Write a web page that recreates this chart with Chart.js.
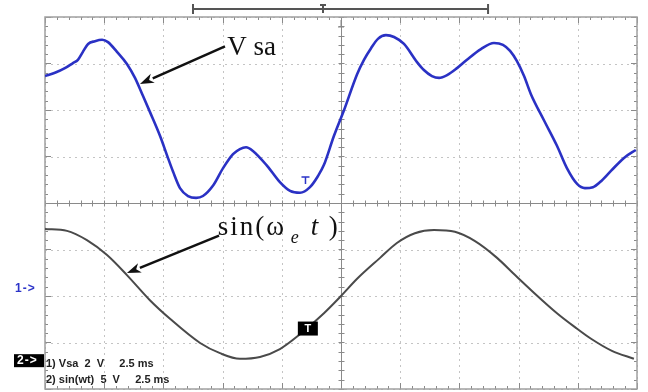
<!DOCTYPE html>
<html>
<head>
<meta charset="utf-8">
<script src="https://cdn.jsdelivr.net/npm/chart.js@4.4.1/dist/chart.umd.min.js"></script>
<style>
  html, body { margin: 0; padding: 0; background: #fff; }
  #wrap { width: 648px; height: 392px; }
</style>
</head>
<body>
<div id="wrap"><canvas id="scope" width="648" height="392"></canvas></div>
<script>
// time axis: 10 divisions of 2.5 ms, vertical: 8 divisions
const timeTicks = [0, 2.5, 5, 7.5, 10, 12.5, 15, 17.5, 20, 22.5, 25];
const divTicks = [-4, -3, -2, -1, 0, 1, 2, 3, 4];

// channel 1: Vsa (screen divisions)
const vsaTime = [0, 0.42, 0.84, 1.18, 1.39, 1.60, 1.82, 2.11, 2.41, 2.66, 3.04, 3.46, 3.80, 4.14, 4.43, 4.86,
  5.15, 5.41, 5.70, 6.04, 6.38, 6.67, 7.09, 7.52, 7.94, 8.23, 8.49, 8.78, 9.38, 9.92, 10.35, 10.77,
  11.19, 11.53, 11.78, 12.20, 12.63, 13.18, 13.47, 13.77, 14.06, 14.40, 14.74, 15.16, 15.71, 16.00,
  16.34, 16.64, 16.98, 17.40, 17.82, 18.41, 18.96, 19.34, 19.64, 19.93, 20.23, 20.52, 21.07, 21.62,
  22.04, 22.47, 22.80, 23.14, 23.44, 23.90, 24.45, 24.95];
const vsaDiv = [2.73, 2.80, 2.90, 3.01, 3.08, 3.25, 3.42, 3.48, 3.51, 3.46, 3.25, 2.99, 2.69, 2.30, 1.96, 1.44,
  1.03, 0.67, 0.32, 0.15, 0.11, 0.15, 0.37, 0.75, 1.05, 1.16, 1.20, 1.12, 0.80, 0.45, 0.26, 0.22,
  0.34, 0.58, 0.82, 1.44, 2.00, 2.77, 3.08, 3.33, 3.53, 3.61, 3.57, 3.42, 3.03, 2.86,
  2.73, 2.69, 2.75, 2.90, 3.08, 3.31, 3.44, 3.40, 3.27, 3.05, 2.73, 2.34, 1.78, 1.23,
  0.75, 0.41, 0.32, 0.34, 0.45, 0.69, 0.97, 1.14];

// channel 2: sin(wt) reference (screen divisions)
const sinTime = [0, 0.93, 1.77, 2.62, 3.46, 4.43, 5.28, 6.55, 7.39, 8.23, 9.08, 9.92, 10.77, 11.78, 12.50,
  13.18, 14.15, 14.86, 15.62, 16.43, 17.31, 18.16, 19.09, 19.85, 20.52, 21.62, 22.38, 23.06, 23.94, 24.87];
const sinDiv = [-0.56, -0.60, -0.80, -1.12, -1.55, -2.09, -2.49, -3.01, -3.23, -3.35, -3.31, -3.14, -2.82, -2.37, -2.00,
  -1.63, -1.18, -0.86, -0.65, -0.58, -0.62, -0.82, -1.18, -1.55, -1.87, -2.37, -2.67, -2.92, -3.18, -3.35];

const channelInfo = ['1) Vsa  2  V     2.5 ms', '2) sin(wt)  5  V     2.5 ms'];

const toPoints = (xs, ys) => xs.map((x, i) => ({ x: x, y: ys[i] }));

// graticule, border ticks and centre cross
const graticule = {
    id: 'graticule',
    beforeDatasetsDraw(chart) {
        const { ctx, chartArea: a, scales: { x, y } } = chart;
        ctx.save();

        ctx.strokeStyle = '#c4c4c4';
        ctx.lineWidth = 1;
        ctx.setLineDash([2, 4]);
        timeTicks.forEach(t => {
            const px = Math.round(x.getPixelForValue(t)) + 0.5;
            ctx.beginPath(); ctx.moveTo(px, a.top); ctx.lineTo(px, a.bottom); ctx.stroke();
        });
        divTicks.forEach(d => {
            const py = Math.round(y.getPixelForValue(d)) + 0.5;
            ctx.beginPath(); ctx.moveTo(a.left, py); ctx.lineTo(a.right, py); ctx.stroke();
        });
        ctx.setLineDash([]);

        const cx = Math.round(x.getPixelForValue(12.5)) + 0.5;
        const cy = Math.round(y.getPixelForValue(0)) + 0.5;
        ctx.strokeStyle = '#8a8a8a';
        ctx.beginPath();
        ctx.moveTo(a.left, cy); ctx.lineTo(a.right, cy);
        ctx.moveTo(cx, a.top); ctx.lineTo(cx, a.bottom);
        ctx.stroke();

        // minor ticks every 1/5 division
        ctx.beginPath();
        for (let t = 0; t <= 25.001; t += 0.5) {
            const px = Math.round(x.getPixelForValue(t)) + 0.5;
            const major = Math.abs(t / 2.5 - Math.round(t / 2.5)) < 1e-6;
            const len = major ? 6 : 3;
            ctx.moveTo(px, a.top); ctx.lineTo(px, a.top + len);
            ctx.moveTo(px, a.bottom); ctx.lineTo(px, a.bottom - len);
            ctx.moveTo(px, cy - 3); ctx.lineTo(px, cy + 3);
        }
        for (let d = -4; d <= 4.001; d += 0.2) {
            const py = Math.round(y.getPixelForValue(d)) + 0.5;
            const major = Math.abs(d - Math.round(d)) < 1e-6;
            const len = major ? 6 : 3;
            ctx.moveTo(a.left, py); ctx.lineTo(a.left + len, py);
            ctx.moveTo(a.right, py); ctx.lineTo(a.right - len, py);
            ctx.moveTo(cx - 3, py); ctx.lineTo(cx + 3, py);
        }
        ctx.stroke();

        ctx.strokeStyle = '#a0a0a0';
        ctx.lineWidth = 1.5;
        ctx.strokeRect(a.left, a.top, a.right - a.left, a.bottom - a.top);
        ctx.restore();
    }
};

function arrow(ctx, x0, y0, x1, y1) {
    const ang = Math.atan2(y1 - y0, x1 - x0);
    const head = 14, half = 5;
    const bx = x1 - head * Math.cos(ang), by = y1 - head * Math.sin(ang);
    ctx.beginPath();
    ctx.moveTo(x0, y0); ctx.lineTo(bx, by);
    ctx.stroke();
    ctx.beginPath();
    ctx.moveTo(x1, y1);
    ctx.lineTo(bx + half * Math.sin(ang), by - half * Math.cos(ang));
    ctx.lineTo(bx + 4 * Math.cos(ang), by + 4 * Math.sin(ang));
    ctx.lineTo(bx - half * Math.sin(ang), by + half * Math.cos(ang));
    ctx.closePath();
    ctx.fill();
}

// labels, arrows and scope markers
const scopeText = {
    id: 'scopeText',
    afterDatasetsDraw(chart) {
        const { ctx, chartArea: a, scales: { x, y } } = chart;
        ctx.save();

        // time-base bracket above the screen
        const bl = x.getPixelForValue(6.25), br = x.getPixelForValue(18.71);
        ctx.strokeStyle = '#555';
        ctx.lineWidth = 2;
        ctx.beginPath();
        ctx.moveTo(bl, 9); ctx.lineTo(br, 9);
        ctx.moveTo(bl, 4); ctx.lineTo(bl, 14);
        ctx.moveTo(br, 4); ctx.lineTo(br, 14);
        const bm = x.getPixelForValue(11.74);
        ctx.moveTo(bm - 3, 5); ctx.lineTo(bm + 3, 5);
        ctx.moveTo(bm, 5); ctx.lineTo(bm, 13);
        ctx.stroke();

        // trigger position marker
        const tp = x.getPixelForValue(12.5);
        ctx.strokeStyle = '#888';
        ctx.lineWidth = 1;
        ctx.beginPath();
        ctx.moveTo(tp, a.top + 3); ctx.lineTo(tp, a.top + 10);
        ctx.moveTo(tp - 3, a.top + 10); ctx.lineTo(tp + 3, a.top + 10);
        ctx.stroke();

        ctx.fillStyle = '#111';
        ctx.strokeStyle = '#111';
        ctx.lineWidth = 2.5;

        // Vsa label and arrow
        arrow(ctx, x.getPixelForValue(7.6), y.getPixelForValue(3.37), x.getPixelForValue(4.01), y.getPixelForValue(2.56));
        ctx.font = '27px "Liberation Serif", "DejaVu Serif", serif';
        ctx.textBaseline = 'alphabetic';
        ctx.fillText('V sa', x.getPixelForValue(7.7), y.getPixelForValue(3.18));

        // sin(wet) label and arrow, tip on the trace
        arrow(ctx, x.getPixelForValue(7.35), y.getPixelForValue(-0.7), x.getPixelForValue(sinTime[4]), y.getPixelForValue(sinDiv[4]) - 2);
        const sx = x.getPixelForValue(7.3), sy = y.getPixelForValue(-0.69);
        ctx.font = '27px "Liberation Serif", "DejaVu Serif", serif';
        ctx.letterSpacing = '2px';
        ctx.fillText('sin(\u03c9', sx, sy);
        ctx.letterSpacing = '0px';
        ctx.font = 'italic 18px "Liberation Serif", "DejaVu Serif", serif';
        ctx.fillText('e', sx + 73, sy + 8);
        ctx.font = 'italic 27px "Liberation Serif", "DejaVu Serif", serif';
        ctx.fillText('t', sx + 93, sy);
        ctx.font = '27px "Liberation Serif", "DejaVu Serif", serif';
        ctx.fillText(')', sx + 111, sy);

        // channel 1 ground marker
        ctx.font = 'bold 12px "Liberation Sans", Arial, sans-serif';
        ctx.textBaseline = 'middle';
        ctx.letterSpacing = '1px';
        ctx.fillStyle = '#2b33c8';
        ctx.fillText('1->', 15, y.getPixelForValue(-1.85));

        // small trigger level mark on channel 1
        const tlx = x.getPixelForValue(11.0), tly = y.getPixelForValue(0.56);
        ctx.strokeStyle = '#2b33c8';
        ctx.lineWidth = 1.5;
        ctx.beginPath();
        ctx.moveTo(tlx - 4, tly); ctx.lineTo(tlx + 4, tly);
        ctx.moveTo(tlx, tly); ctx.lineTo(tlx, tly + 7);
        ctx.stroke();

        // channel 2 ground marker
        const g2 = y.getPixelForValue(-3.38);
        ctx.fillStyle = '#000';
        ctx.fillRect(14, g2 - 6, 30, 13);
        ctx.fillStyle = '#fff';
        ctx.fillText('2->', 17, g2 + 0.5);
        ctx.letterSpacing = '0px';

        // trigger box on channel 2
        const tx = x.getPixelForValue(11.1), ty = y.getPixelForValue(-2.7);
        ctx.fillStyle = '#000';
        ctx.fillRect(tx - 10, ty - 7, 20, 14);
        ctx.fillStyle = '#fff';
        ctx.textAlign = 'center';
        ctx.font = 'bold 11px "Liberation Sans", Arial, sans-serif';
        ctx.fillText('T', tx, ty + 0.5);

        // channel settings
        ctx.textAlign = 'left';
        ctx.fillStyle = '#222';
        ctx.font = 'bold 11px "Liberation Sans", Arial, sans-serif';
        ctx.fillText(channelInfo[0], a.left + 1, 364);
        ctx.fillText(channelInfo[1], a.left + 1, 380);

        ctx.restore();
    }
};

new Chart(document.getElementById('scope'), {
    type: 'line',
    data: {
        datasets: [
            {
                label: 'Vsa',
                data: toPoints(vsaTime, vsaDiv),
                borderColor: '#2a31c4',
                borderWidth: 2.6,
                pointRadius: 0,
                cubicInterpolationMode: 'monotone',
                fill: false
            },
            {
                label: 'sin(wt)',
                data: toPoints(sinTime, sinDiv),
                borderColor: '#4a4a4a',
                borderWidth: 2,
                pointRadius: 0,
                cubicInterpolationMode: 'monotone',
                fill: false
            }
        ]
    },
    options: {
        responsive: false,
        animation: false,
        layout: { padding: { left: 45, top: 17, right: 11, bottom: 3 } },
        plugins: {
            legend: { display: false },
            tooltip: { enabled: false }
        },
        scales: {
            x: { type: 'linear', min: 0, max: 25, display: false },
            y: { type: 'linear', min: -4, max: 4, display: false }
        }
    },
    plugins: [graticule, scopeText]
});
</script>
</body>
</html>
